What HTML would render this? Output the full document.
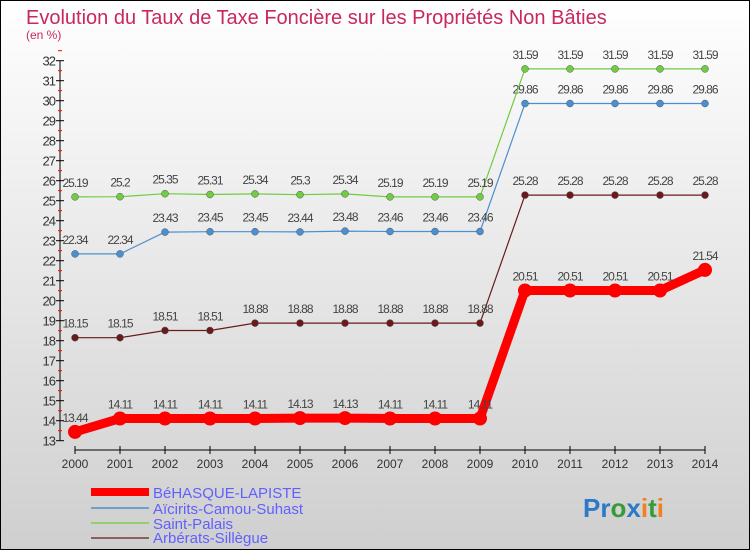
<!DOCTYPE html>
<html><head><meta charset="utf-8"><style>
body{margin:0}
#wrap{width:750px;height:550px;position:relative;overflow:hidden}
svg{display:block;font-family:"Liberation Sans",sans-serif}
</style></head><body><div id="wrap">
<svg id="c" width="750" height="550" xmlns="http://www.w3.org/2000/svg">
<defs><linearGradient id="bg" x1="0" y1="0" x2="0" y2="1"><stop offset="0" stop-color="#ffffff"/><stop offset="1" stop-color="#cfcfcf"/></linearGradient></defs>
<rect x="0.5" y="0.5" width="749" height="549" fill="url(#bg)" stroke="#000"/>
<text x="26" y="24" font-size="20" fill="#c8285a">Evolution du Taux de Taxe Foncière sur les Propriétés Non Bâties</text>
<text x="26" y="39" font-size="12" fill="#c8285a">(en %)</text>
<g id="axes"></g><g id="series"></g>
<g>
<rect x="91" y="488" width="58" height="8" fill="#f00"/>
<text x="153" y="498" font-size="15" fill="#6060ff">BéHASQUE-LAPISTE</text>
<rect x="91" y="507" width="58" height="2" fill="#6fa0cc"/>
<text x="153" y="514" font-size="15" fill="#6060ff">Aïcirits-Camou-Suhast</text>
<rect x="91" y="522" width="58" height="2" fill="#90d070"/>
<text x="153" y="529" font-size="15" fill="#6060ff">Saint-Palais</text>
<rect x="91" y="537" width="58" height="2" fill="#8a6060"/>
<text x="153" y="543" font-size="15" fill="#6060ff">Arbérats-Sillègue</text>
</g>
<text x="583" y="517" font-size="26" font-weight="bold"><tspan fill="#2a7ac8">Pr</tspan><tspan fill="#3a9a3a">o</tspan><tspan fill="#2a7ac8">x</tspan><tspan fill="#f08020">i</tspan><tspan fill="#3a9a3a">t</tspan><tspan fill="#f08020">i</tspan></text>
</svg></div>
<script>
const years=["2000","2001","2002","2003","2004","2005","2006","2007","2008","2009","2010","2011","2012","2013","2014"];
const behasque=[13.44,14.11,14.11,14.11,14.11,14.13,14.13,14.11,14.11,14.11,20.51,20.51,20.51,20.51,21.54];
const aicirits=[22.34,22.34,23.43,23.45,23.45,23.44,23.48,23.46,23.46,23.46,29.86,29.86,29.86,29.86,29.86];
const saintPalais=[25.19,25.2,25.35,25.31,25.34,25.3,25.34,25.19,25.19,25.19,31.59,31.59,31.59,31.59,31.59];
const arberats=[18.15,18.15,18.51,18.51,18.88,18.88,18.88,18.88,18.88,18.88,25.28,25.28,25.28,25.28,25.28];
const yTicks=[13,14,15,16,17,18,19,20,21,22,23,24,25,26,27,28,29,30,31,32];
const NS="http://www.w3.org/2000/svg";
const x=i=>75+i*45, y=v=>440.7-(v-13)*20;
function el(t,a,p){const e=document.createElementNS(NS,t);for(const k in a)e.setAttribute(k,a[k]);p.appendChild(e);return e;}
const ax=document.getElementById('axes');
let l=el('line',{x1:60,y1:y(13),x2:60,y2:y(32),stroke:'#000'},ax);


yTicks.forEach(v=>{
 let t=el('line',{x1:56,y1:y(v),x2:64,y2:y(v),stroke:'#000'},ax);
 
 
 let m=el('line',{x1:58,y1:y(v)-10,x2:62,y2:y(v)-10,stroke:'#f00'},ax);
 
 
 let s=el('text',{x:55,y:y(v)+5,'font-size':13,fill:'#333','text-anchor':'end','letter-spacing':'-1'},ax);s.textContent=v;
 
 
});
let xl=el('line',{x1:x(0),y1:450,x2:x(14),y2:450,stroke:'#000'},ax);


years.forEach((yr,i)=>{
 let t=el('line',{x1:x(i),y1:446,x2:x(i),y2:454,stroke:'#000'},ax);
 
 
 let s=el('text',{x:x(i),y:468,'font-size':12,fill:'#333','text-anchor':'middle'},ax);s.textContent=yr;
 
 
});
const sg=document.getElementById('series');
function series(vals,color,w,r,name){
 const g=el('g',{},sg);
 
 
 let p=el('polyline',{points:vals.map((v,i)=>x(i)+','+y(v)).join(' '),fill:'none',stroke:color,'stroke-width':w,'stroke-linejoin':'round'},g);
 
 
 vals.forEach((v,i)=>{
  let c=el('circle',{cx:x(i),cy:y(v),r:r,fill:color,stroke:r>5?'none':'#555','stroke-width':0.5},g);
  
  
  let t=el('text',{x:x(i),y:y(v)-10,'font-size':12,fill:'#444','text-anchor':'middle','letter-spacing':'-1'},g);t.textContent=v;
  
  
 });
}
series(arberats,'#6a1a1a',1.2,3.5,'arberats');
series(aicirits,'#4a90d0',1.2,3.5,'aicirits');
series(saintPalais,'#70cc40',1.2,3.5,'saint-palais');
series(behasque,'#f00',9,7,'behasque');
</script></body></html>
